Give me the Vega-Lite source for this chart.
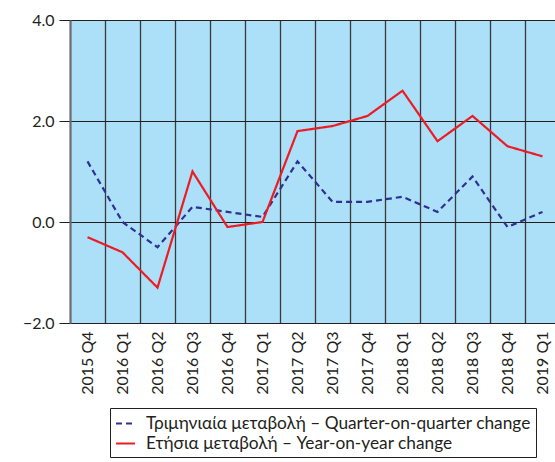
{
  "$schema": "https://vega.github.io/schema/vega-lite/v6.json",
  "autosize": "none",
  "width": 490,
  "height": 303,
  "padding": {"left": 70, "top": 20, "right": 0, "bottom": 139},
  "config": {
    "view": {"fill": "#acdff8", "stroke": null},
    "font": "Lato",
    "axis": {"labelFont": "Lato", "labelColor": "#231f20"}
  },
  "data": {
    "values": [
      {"q": "2015 Q4", "s": "Τριμηνιαία μεταβολή – Quarter-on-quarter change", "v": 1.2},
      {"q": "2016 Q1", "s": "Τριμηνιαία μεταβολή – Quarter-on-quarter change", "v": 0.0},
      {"q": "2016 Q2", "s": "Τριμηνιαία μεταβολή – Quarter-on-quarter change", "v": -0.5},
      {"q": "2016 Q3", "s": "Τριμηνιαία μεταβολή – Quarter-on-quarter change", "v": 0.3},
      {"q": "2016 Q4", "s": "Τριμηνιαία μεταβολή – Quarter-on-quarter change", "v": 0.2},
      {"q": "2017 Q1", "s": "Τριμηνιαία μεταβολή – Quarter-on-quarter change", "v": 0.1},
      {"q": "2017 Q2", "s": "Τριμηνιαία μεταβολή – Quarter-on-quarter change", "v": 1.2},
      {"q": "2017 Q3", "s": "Τριμηνιαία μεταβολή – Quarter-on-quarter change", "v": 0.4},
      {"q": "2017 Q4", "s": "Τριμηνιαία μεταβολή – Quarter-on-quarter change", "v": 0.4},
      {"q": "2018 Q1", "s": "Τριμηνιαία μεταβολή – Quarter-on-quarter change", "v": 0.5},
      {"q": "2018 Q2", "s": "Τριμηνιαία μεταβολή – Quarter-on-quarter change", "v": 0.2},
      {"q": "2018 Q3", "s": "Τριμηνιαία μεταβολή – Quarter-on-quarter change", "v": 0.9},
      {"q": "2018 Q4", "s": "Τριμηνιαία μεταβολή – Quarter-on-quarter change", "v": -0.1},
      {"q": "2019 Q1", "s": "Τριμηνιαία μεταβολή – Quarter-on-quarter change", "v": 0.2},
      {"q": "2015 Q4", "s": "Ετήσια μεταβολή – Year-on-year change", "v": -0.3},
      {"q": "2016 Q1", "s": "Ετήσια μεταβολή – Year-on-year change", "v": -0.6},
      {"q": "2016 Q2", "s": "Ετήσια μεταβολή – Year-on-year change", "v": -1.3},
      {"q": "2016 Q3", "s": "Ετήσια μεταβολή – Year-on-year change", "v": 1.0},
      {"q": "2016 Q4", "s": "Ετήσια μεταβολή – Year-on-year change", "v": -0.1},
      {"q": "2017 Q1", "s": "Ετήσια μεταβολή – Year-on-year change", "v": 0.0},
      {"q": "2017 Q2", "s": "Ετήσια μεταβολή – Year-on-year change", "v": 1.8},
      {"q": "2017 Q3", "s": "Ετήσια μεταβολή – Year-on-year change", "v": 1.9},
      {"q": "2017 Q4", "s": "Ετήσια μεταβολή – Year-on-year change", "v": 2.1},
      {"q": "2018 Q1", "s": "Ετήσια μεταβολή – Year-on-year change", "v": 2.6},
      {"q": "2018 Q2", "s": "Ετήσια μεταβολή – Year-on-year change", "v": 1.6},
      {"q": "2018 Q3", "s": "Ετήσια μεταβολή – Year-on-year change", "v": 2.1},
      {"q": "2018 Q4", "s": "Ετήσια μεταβολή – Year-on-year change", "v": 1.5},
      {"q": "2019 Q1", "s": "Ετήσια μεταβολή – Year-on-year change", "v": 1.3}
    ]
  },
  "mark": {"type": "line", "strokeWidth": 2.2},
  "encoding": {
    "x": {
      "field": "q", "type": "ordinal", "sort": null,
      "scale": {"paddingInner": 0, "paddingOuter": 0},
      "axis": {
        "title": null, "labelAngle": -90, "labelAlign": "right", "labelBaseline": "middle",
        "labelFontSize": 16, "labelPadding": 8, "ticks": false, "domain": false,
        "grid": true, "tickBand": "extent", "gridColor": "#3a3a3a", "gridWidth": 1.3, "gridOpacity": 1
      }
    },
    "y": {
      "field": "v", "type": "quantitative",
      "scale": {"domain": [-2, 4], "nice": false},
      "axis": {
        "title": null, "values": [-2, 0, 2, 4], "format": ".1f",
        "labelFontSize": 16, "labelPadding": 5, "tickSize": 11, "tickColor": "#231f20",
        "grid": true, "gridColor": "#231f20", "gridWidth": 1.2, "gridOpacity": 1,
        "domain": true, "domainColor": "#6d6d6d", "domainWidth": 2
      }
    },
    "color": {
      "field": "s", "type": "nominal", "sort": null,
      "scale": {
        "domain": ["Τριμηνιαία μεταβολή – Quarter-on-quarter change", "Ετήσια μεταβολή – Year-on-year change"],
        "range": ["#2e3192", "#ed1c24"]
      },
      "legend": {
        "title": null, "orient": "none", "legendX": 40, "legendY": 388,
        "strokeColor": "#231f20", "padding": 5, "labelFontSize": 17.3, "labelColor": "#231f20",
        "symbolType": "stroke", "symbolSize": 360, "symbolStrokeWidth": 2, "labelLimit": 500,
        "rowPadding": 1, "labelOffset": 10
      }
    },
    "strokeDash": {
      "field": "s", "type": "nominal", "sort": null,
      "scale": {
        "domain": ["Τριμηνιαία μεταβολή – Quarter-on-quarter change", "Ετήσια μεταβολή – Year-on-year change"],
        "range": [[6, 4], [1, 0]]
      },
      "legend": {
        "title": null, "orient": "none", "legendX": 40, "legendY": 388,
        "strokeColor": "#231f20", "padding": 5, "labelFontSize": 17.3, "labelColor": "#231f20",
        "symbolType": "stroke", "symbolSize": 360, "symbolStrokeWidth": 2, "labelLimit": 500,
        "rowPadding": 1, "labelOffset": 10
      }
    }
  }
}
